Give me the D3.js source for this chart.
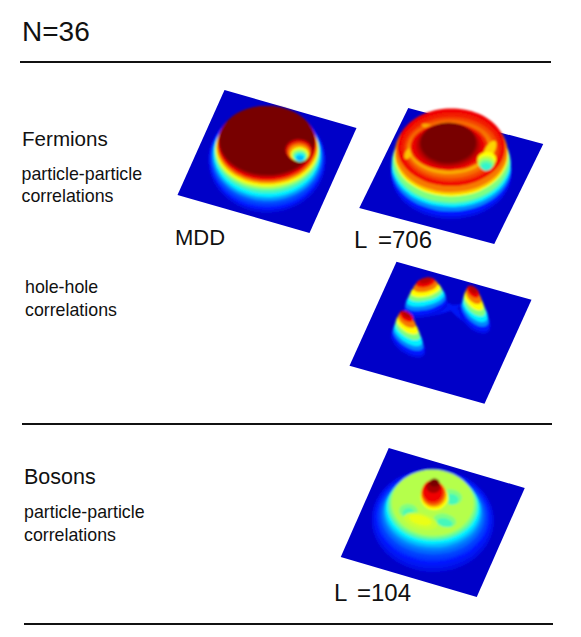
<!DOCTYPE html>
<html>
<head>
<meta charset="utf-8">
<script src="https://cdn.jsdelivr.net/npm/d3@7"></script>
<style>
  html, body { margin: 0; padding: 0; background: #fff; }
  text { font-family: "Liberation Sans", Arial, sans-serif; fill: #111; }
</style>
</head>
<body>
<div id="chart"></div>
<script>
// colour scale of the surfaces
const jetStops = [0, 0.12, 0.37, 0.5, 0.62, 0.87, 1];
const jetColors = ['#0000c8', '#0018ff', '#00f0ff', '#80ff80', '#ffff00', '#f00000', '#780000'];

// every surface is a stack of height levels: [u, v, radius u, radius v, height, rotation]
const mddRings = [
  [0, 0, .86, .96, 0, -20], [0, 0, .84, .94, .05, -20], [0, 0, .82, .914, .12, -20], [0, 0, .805, .87, .16, -20],
  [0, 0, .79, .82, .2, -20], [0, 0, .775, .8, .28, -20], [0, 0, .76, .776, .37, -20], [0, 0, .75, .735, .44, -20],
  [0, 0, .74, .7, .5, -20], [0, 0, .735, .685, .56, -20], [0, 0, .73, .67, .62, -20], [0, 0, .72, .665, .7, -20],
  [0, 0, .71, .66, .78, -20], [0, 0, .7, .66, .87, -20], [0, 0, .69, .64, .94, -20], [0, 0, .68, .62, 1, -20],
  // pit on the right
  [.47, -.03, .19, .19, .9], [.47, -.04, .17, .17, .8], [.47, -.05, .15, .15, .72],
  [.475, -.06, .13, .13, .62], [.47, -.07, .115, .115, .56], [.47, -.075, .1, .1, .5],
  [.47, -.09, .085, .085, .43], [.465, -.095, .07, .07, .37], [.46, -.11, .05, .05, .3]
];

const l706Rings = [
  [0, 0, .85, .87, 0, -20], [0, 0, .84, .85, .06, -20], [0, 0, .835, .83, .12, -20], [0, 0, .83, .82, .25, -20],
  [0, 0, .83, .813, .37, -20], [0, 0, .82, .805, .44, -20], [0, 0, .81, .8, .5, -20], [0, 0, .79, .77, .62, -20],
  [0, 0, .785, .77, .68, -20], [0, 0, .78, .767, .75, -20], [0, 0, .75, .73, .87, -20],
  // ridge falling to the trough
  [0, -.01, .7, .66, .84, -20], [0, -.01, .655, .6, .8, -20], [-.02, -.03, .61, .54, .76, -20], [-.05, -.07, .57, .48, .7, -20],
  // yellow parts of the trough
  [-.56, .2, .05, .11, .68], [-.47, -.36, .1, .04, .7],
  // rise to the core
  [-.04, -.03, .55, .45, .82, -20], [-.04, .01, .51, .43, .88, -20], [-.04, .01, .45, .41, .92, -20],
  [-.04, .01, .41, .395, .96, -20], [-.04, .01, .385, .377, 1, -30],
  // bump on the right front
  [.48, -.24, .07, .2, .66], [.49, -.1, .13, .14, .62], [.49, -.08, .12, .12, .56],
  [.49, -.08, .1, .1, .5], [.49, -.08, .085, .085, .46], [.49, -.08, .07, .07, .42]
];

const holeRings = [
  // faint ridges between the lobes
  [-.1, -.33, .3, .05, .1, -40], [.14, -.36, .26, .05, .1, 30], [-.47, -.03, .06, .28, .1, -15],
  // back lobe
  [-.34, -.34, .32, .18, .06, -40], [-.34, -.34, .31, .16, .12, -40], [-.34, -.34, .3, .15, .25, -40],
  [-.34, -.34, .28, .14, .37, -40], [-.34, -.34, .25, .125, .5, -40], [-.34, -.34, .22, .115, .62, -40],
  [-.34, -.34, .18, .1, .75, -40], [-.34, -.34, .14, .08, .87, -40], [-.34, -.34, .09, .05, .93, -40],
  // right lobe
  [.38, -.38, .31, .17, .06, 39], [.38, -.38, .3, .15, .12, 39], [.38, -.38, .28, .14, .25, 39],
  [.38, -.38, .26, .13, .37, 39], [.37, -.38, .23, .115, .5, 39], [.36, -.39, .2, .1, .62, 39],
  [.35, -.4, .16, .085, .75, 39], [.34, -.41, .12, .07, .87, 39], [.34, -.41, .08, .045, .93, 39],
  // left lobe
  [-.35, .37, .31, .17, .06, 29], [-.35, .37, .3, .15, .12, 29], [-.35, .37, .28, .14, .25, 29],
  [-.35, .37, .26, .13, .37, 29], [-.36, .36, .23, .115, .5, 29], [-.37, .35, .2, .1, .62, 29],
  [-.38, .34, .16, .085, .75, 29], [-.39, .33, .12, .07, .87, 29], [-.39, .33, .08, .045, .93, 29]
];

const bosonRings = [
  [0, 0, .875, .95, 0, -20], [0, 0, .85, .89, .06, -20], [0, 0, .825, .85, .09, -20], [0, 0, .8, .807, .12, -20],
  [0, 0, .775, .76, .15, -20], [0, 0, .75, .72, .17, -20], [0, 0, .72, .68, .21, -20], [0, 0, .69, .64, .25, -20],
  [0, 0, .67, .62, .31, -20], [0, 0, .65, .6, .37, -20], [0, 0, .625, .59, .45, -20],
  [0, 0, .6, .58, .5, -20], [0, 0, .57, .57, .55, -20],
  // low and high patches on the plateau
  [.2, -.21, .15, .13, .5], [.2, -.21, .1, .09, .44], [.25, .2, .16, .11, .5], [.25, .2, .11, .07, .44],
  [-.28, .22, .13, .12, .5], [-.28, .22, .08, .08, .45], [-.05, .37, .24, .13, .57], [-.05, .37, .16, .08, .6],
  // central peak
  [0, -.07, .2, .25, .55, -20], [0, -.06, .19, .23, .62, -20], [0, -.04, .175, .22, .72, -20], [0, -.02, .16, .21, .8, -20],
  [0, 0, .14, .19, .87, -20], [0, -.03, .1, .11, .95, -20], [0, -.07, .07, .07, 1, -20]
];

// position of each square floor on the page, height in px of a surface at 1
const mddPanel = { cx: 267, cy: 161.5, ux: 66, uy: 19, vx: -23.5, vy: 52.5, top: 21, rings: mddRings };
const l706Panel = { cx: 451.25, cy: 176, ux: 67.5, uy: 18, vx: -24.5, vy: 50, top: 33, rings: l706Rings };
const holePanel = { cx: 440.5, cy: 332.75, ux: 67.5, uy: 19, vx: -23.5, vy: 52, top: 30, rings: holeRings };
const bosonPanel = { cx: 432.75, cy: 522.5, ux: 68, uy: 20, vx: -24, vy: 54.5, top: 36, rings: bosonRings };

const labels = [
  { x: 22, y: 41, size: 28, text: 'N=36' },
  { x: 22, y: 146, size: 20.6, text: 'Fermions' },
  { x: 21.5, y: 180, size: 17.8, text: 'particle-particle' },
  { x: 21.5, y: 202, size: 17.8, text: 'correlations' },
  { x: 25, y: 293, size: 17.8, text: 'hole-hole' },
  { x: 25, y: 316, size: 17.8, text: 'correlations' },
  { x: 175, y: 245, size: 22, text: 'MDD' },
  { x: 354, y: 248, size: 24, text: 'L' },
  { x: 378, y: 248, size: 24, text: '=706' },
  { x: 24, y: 484, size: 21.5, text: 'Bosons' },
  { x: 24, y: 518, size: 17.8, text: 'particle-particle' },
  { x: 24, y: 541, size: 17.8, text: 'correlations' },
  { x: 334, y: 601, size: 24, text: 'L' },
  { x: 357, y: 601, size: 24, text: '=104' }
];

const rules = [
  { x1: 20, x2: 551, y: 62 },
  { x1: 22, x2: 552, y: 424 },
  { x1: 24, x2: 553, y: 624 }
];

const width = 581;
const height = 637;

const svg = d3.select('#chart')
  .append('svg')
  .attr('width', width)
  .attr('height', height)
  .style('display', 'block');

svg.append('defs')
  .append('filter')
  .attr('id', 'soft')
  .attr('x', '-20%').attr('y', '-20%')
  .attr('width', '140%').attr('height', '140%')
  .append('feGaussianBlur')
  .attr('stdDeviation', 1.2);

const jet = d3.scaleLinear().domain(jetStops).range(jetColors);
const angles = d3.range(0, 2 * Math.PI, Math.PI / 12);

function drawPanel(panel) {
  const lift = d3.scaleLinear().domain([0, 1]).range([0, panel.top]);
  const project = (u, v, z) => [
    panel.cx + u * panel.ux + v * panel.vx,
    panel.cy + u * panel.uy + v * panel.vy - lift(z)
  ];

  const outline = d3.line().curve(d3.curveCardinalClosed);
  const ringPath = ([u, v, ru, rv, z, rot = 0]) => {
    const t = rot * Math.PI / 180;
    return outline(angles.map(a => {
      const p = ru * Math.cos(a);
      const q = rv * Math.sin(a);
      return project(u + p * Math.cos(t) - q * Math.sin(t), v + p * Math.sin(t) + q * Math.cos(t), z);
    }));
  };

  // floor
  svg.append('path')
    .attr('d', d3.line()([[-1, -1], [1, -1], [1, 1], [-1, 1]].map(([u, v]) => project(u, v, 0))) + 'Z')
    .attr('fill', jet(0));

  svg.append('g')
    .attr('filter', 'url(#soft)')
    .selectAll('path')
    .data(panel.rings)
    .join('path')
    .attr('d', ringPath)
    .attr('fill', d => jet(d[4]));
}

[mddPanel, l706Panel, holePanel, bosonPanel].forEach(drawPanel);

svg.selectAll('.rule')
  .data(rules)
  .join('line')
  .attr('class', 'rule')
  .attr('x1', d => d.x1)
  .attr('x2', d => d.x2)
  .attr('y1', d => d.y)
  .attr('y2', d => d.y)
  .attr('stroke', '#111')
  .attr('stroke-width', 2);

svg.selectAll('.label')
  .data(labels)
  .join('text')
  .attr('class', 'label')
  .attr('x', d => d.x)
  .attr('y', d => d.y)
  .attr('font-size', d => d.size)
  .text(d => d.text);
</script>
</body>
</html>
